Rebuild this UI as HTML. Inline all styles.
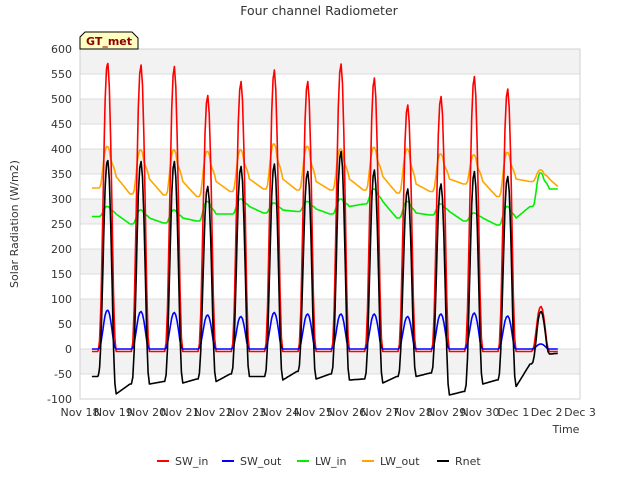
<!DOCTYPE html>
<html><head><meta charset="utf-8"><style>
body{margin:0;background:#fff;font-family:"Liberation Sans","DejaVu Sans",sans-serif}
svg text{font-family:"DejaVu Sans","Liberation Sans",sans-serif}
</style></head><body>
<svg id="c" width="640" height="480" xmlns="http://www.w3.org/2000/svg">
<rect width="640" height="480" fill="#fff"/>
<text x="319" y="15" text-anchor="middle" font-size="12.5" fill="#333">Four channel Radiometer</text>
<g id="grid"></g>
<g id="yt"></g>
<g id="xt"></g>
<g id="series"></g>
<text transform="translate(18,224) rotate(-90)" text-anchor="middle" font-size="11" fill="#333">Solar Radiation (W/m2)</text>
<text x="566" y="433" text-anchor="middle" font-size="11" fill="#333">Time</text>
<g>
<path d="M80,49 L80,37 L85,32 L132,32 L138,38 L138,49 Z" fill="#ffffc0" stroke="#000" stroke-width="1"/>
<text x="109" y="45" text-anchor="middle" font-size="11" font-weight="bold" fill="#8b0000">GT_met</text>
</g>
<g id="legend"></g>
</svg>
<script>
const days=[18,19,20,21,22,23,24,25,26,27,28,29,30,31];
const swInPeak=[575,568,565,507,535,558,535,570,542,488,505,545,520,85];
const swOutPeak=[78,75,73,68,65,73,70,70,70,65,70,72,66,10];
const lwOutPre=[322,310,308,305,315,320,318,318,318,312,315,330,305,335];
const lwOutPeak=[405,398,398,395,398,410,405,400,403,400,390,388,393,358];
const lwOutPost=[345,340,335,335,340,340,335,340,345,330,340,335,340,340];
const lwInPre=[265,250,252,256,270,272,275,270,290,262,268,256,248,285];
const lwInPeak=[285,278,278,295,300,292,295,300,320,295,290,272,285,352];
const lwInPost=[270,262,262,270,285,278,280,285,295,272,275,262,262,320];
const rnPre=[-55,-70,-65,-60,-50,-55,-45,-50,-60,-55,-48,-85,-62,-30];
const rnPeak=[380,375,375,325,365,370,355,395,358,320,330,355,345,75];
const rnPost=[-90,-70,-68,-65,-55,-62,-60,-62,-68,-55,-92,-70,-75,-10];
const endVals={sw:-5,swo:0,lwo:315,lwi:320,rn:-8};
const shapeSun=[0,0,0.03,0.15,0.38,0.62,0.85,0.97,1,0.93,0.75,0.5,0.22,0.05,0,0,0,0,0,0,0,0,0,0];
const shapeLW=[0,0,0,0.08,0.35,0.65,0.88,1,1,0.9,0.6,0.45,0.35,0.2,0,0,0,0,0,0,0,0,0,0];
const yTicks=[-100,-50,0,50,100,150,200,250,300,350,400,450,500,550,600];
const xLabels=["Nov 18","Nov 19","Nov 20","Nov 21","Nov 22","Nov 23","Nov 24","Nov 25","Nov 26","Nov 27","Nov 28","Nov 29","Nov 30","Dec 1","Dec 2","Dec 3"];
const X0=80,X1=580,Y0=399,Y1=49,T0=18,T1=33,V0=-100,V1=600;
const xs=t=>X0+(t-T0)/(T1-T0)*(X1-X0);
const ys=v=>Y0-(v-V0)/(V1-V0)*(Y0-Y1);
const NS="http://www.w3.org/2000/svg";
function mk(tag,at,p){const e=document.createElementNS(NS,tag);for(const k in at)e.setAttribute(k,at[k]);p.appendChild(e);return e;}
const grid=document.getElementById('grid');
for(let i=0;i<yTicks.length-1;i++){
 if(i%2==1){const r=mk('rect',{x:X0,y:ys(yTicks[i+1]),width:X1-X0,height:ys(yTicks[i])-ys(yTicks[i+1]),fill:'#f2f2f2'},grid);
 
 }
}
yTicks.forEach(v=>{const l=mk('line',{x1:X0,x2:X1,y1:ys(v),y2:ys(v),stroke:'#dcdcdc','stroke-width':1},grid);
 
 });
mk('rect',{x:X0,y:Y1,width:X1-X0,height:Y0-Y1,fill:'none',stroke:'#d0d0d0'},grid);
const yt=document.getElementById('yt');
yTicks.forEach(v=>{const t=mk('text',{x:72,y:ys(v)+4,'text-anchor':'end','font-size':11,fill:'#333'},yt);t.textContent=v;
 
 });
const xt=document.getElementById('xt');
xLabels.forEach((s,i)=>{const t=mk('text',{x:xs(T0+i),y:416,'text-anchor':'middle','font-size':11,fill:'#333'},xt);t.textContent=s;
 
 });
function build(pre,peak,post,shape,endV){
 const pts=[];
 for(let i=0;i<days.length;i++){
  const d=days[i];const nextPre=i+1<pre.length?pre[i+1]:endV;
  const hStart=i==0?8.6:12;
  for(let h=hStart;h<36;h+=0.5){
   const t=d+h/24; if(t>32.34)break;
   const hi=Math.floor(h);const idx=Math.max(0,hi-12);
   const s0=shape[idx]||0,s1=shape[Math.min(idx+1,23)]||0;
   const s=h<12?0:s0+(s1-s0)*(h-hi);
   let base;
   if(h<=20)base=pre[i];else if(h<=26)base=post[i];else base=post[i]+(nextPre-post[i])*(h-26)/10;
   pts.push([t,base+(peak[i]-base)*s]);
  }
 }
 return pts;
}
const swPre=days.map(()=>-5),swPost=days.map(()=>-5);
const zPre=days.map(()=>0),zPost=days.map(()=>0);
const series=[
 {n:'LW_in',c:'#00ee00',p:build(lwInPre,lwInPeak,lwInPost,shapeLW,endVals.lwi)},
 {n:'LW_out',c:'#ffa500',p:build(lwOutPre,lwOutPeak,lwOutPost,shapeLW,endVals.lwo)},
 {n:'SW_in',c:'#ff0000',p:build(swPre,swInPeak,swPost,shapeSun,endVals.sw)},
 {n:'SW_out',c:'#0000ff',p:build(zPre,swOutPeak,zPost,shapeSun,endVals.swo)},
 {n:'Rnet',c:'#000000',p:build(rnPre,rnPeak,rnPost,shapeSun,endVals.rn)}
];
const sg=document.getElementById('series');
series.forEach(s=>{
 const d=s.p.map((q,i)=>(i?'L':'M')+xs(q[0]).toFixed(1)+','+ys(q[1]).toFixed(1)).join('');
 const e=mk('path',{d:d,fill:'none',stroke:s.c,'stroke-width':1.6,'stroke-linejoin':'round'},sg);
 
 
});
const lg=document.getElementById('legend');
const legendOrder=[['SW_in','#ff0000',157],['SW_out','#0000ff',222],['LW_in','#00ee00',297],['LW_out','#ffa500',362],['Rnet','#000000',437]];
legendOrder.forEach(([n,c,x])=>{
 const g=mk('g',{},lg);
 
 
 mk('line',{x1:x,x2:x+12,y1:461,y2:461,stroke:c,'stroke-width':2},g);
 const t=mk('text',{x:x+18,y:465,'font-size':11,fill:'#333'},g);t.textContent=n;
});
</script>
</body></html>
